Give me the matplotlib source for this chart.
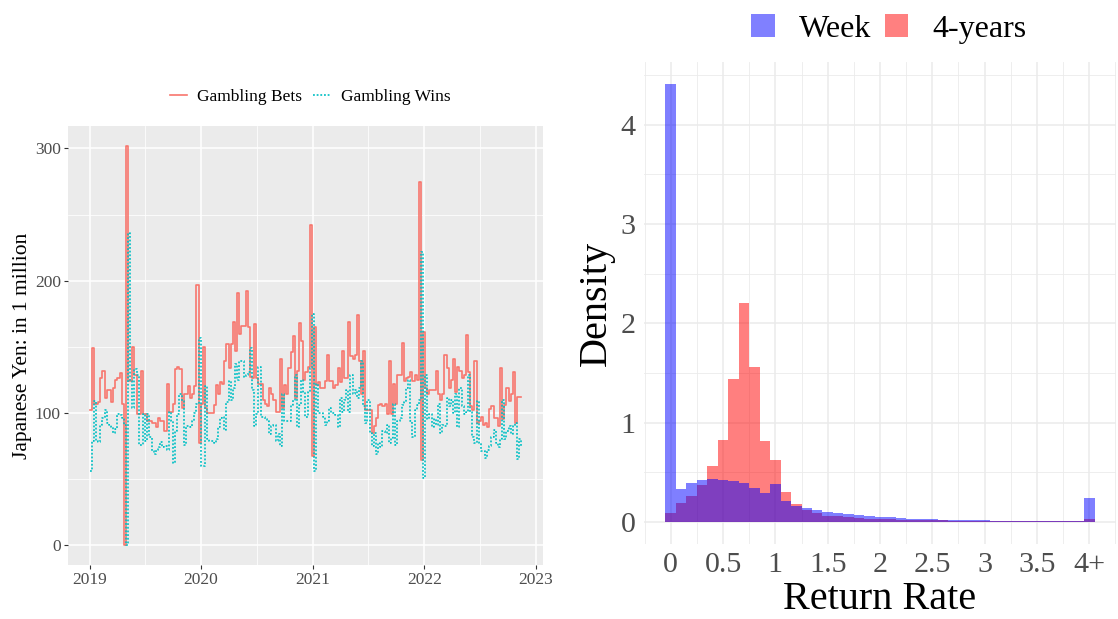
import numpy as np
import pandas as pd
import matplotlib
matplotlib.use("Agg")
import matplotlib.pyplot as plt
import matplotlib.dates as mdates
from matplotlib.lines import Line2D
from matplotlib.patches import Patch
from matplotlib.ticker import MultipleLocator

plt.rcParams['font.family'] = ['Liberation Serif', 'DejaVu Serif']

# weekly totals, in millions of yen
week_start = "2019-01-01"
bets = [
    102, 149, 107, 107, 108, 126, 132, 111, 117, 117,
    108, 119, 125, 126, 130, 107, 0, 302, 124, 124,
    150, 129, 99, 99, 132, 99, 99, 94, 94, 92,
    92, 89, 96, 94, 94, 86, 122, 101, 101, 107,
    133, 135, 133, 104, 114, 114, 120, 111, 114, 120,
    197, 77, 107, 150, 104, 100, 100, 100, 106, 121,
    114, 123, 122, 139, 152, 134, 152, 169, 147, 191,
    160, 166, 166, 192, 165, 127, 126, 167, 126, 122,
    122, 110, 107, 105, 119, 114, 110, 101, 101, 141,
    104, 121, 114, 134, 146, 158, 111, 132, 168, 154,
    125, 131, 135, 242, 67, 165, 121, 123, 119, 119,
    124, 144, 124, 124, 119, 121, 134, 123, 147, 126,
    126, 169, 143, 141, 144, 174, 139, 114, 147, 102,
    102, 102, 85, 90, 96, 106, 107, 105, 107, 99,
    139, 99, 122, 107, 129, 129, 153, 124, 126, 127,
    131, 124, 129, 125, 275, 64, 161, 119, 114, 117,
    117, 117, 132, 114, 110, 114, 144, 134, 119, 125,
    141, 116, 135, 132, 126, 129, 159, 131, 105, 102,
    139, 92, 94, 97, 91, 92, 89, 103, 105, 96,
    96, 90, 134, 95, 106, 119, 109, 114, 131, 92,
    112, 112, 112,
]
wins = [
    56, 79, 109, 79, 78, 91, 96, 102, 92, 91,
    89, 85, 88, 99, 98, 96, 91, 0, 236, 124,
    104, 133, 129, 76, 76, 99, 79, 99, 82, 71,
    69, 72, 74, 78, 74, 75, 72, 101, 94, 62,
    86, 99, 114, 109, 76, 90, 90, 89, 94, 100,
    107, 157, 60, 60, 120, 80, 79, 79, 77, 80,
    89, 96, 97, 87, 108, 124, 110, 119, 137, 125,
    139, 139, 127, 129, 131, 149, 117, 90, 99, 135,
    97, 97, 95, 94, 84, 90, 91, 79, 84, 75,
    114, 94, 94, 94, 106, 110, 129, 89, 106, 125,
    116, 97, 116, 134, 175, 56, 122, 100, 100, 97,
    91, 94, 104, 100, 100, 98, 89, 111, 101, 110,
    117, 101, 129, 114, 117, 111, 119, 139, 105, 92,
    110, 85, 75, 85, 69, 77, 74, 86, 85, 91,
    77, 81, 107, 76, 94, 96, 106, 108, 119, 125,
    94, 82, 102, 106, 110, 222, 51, 129, 95, 99,
    89, 95, 91, 107, 85, 91, 90, 111, 105, 110,
    100, 114, 89, 119, 105, 99, 101, 129, 101, 82,
    77, 109, 77, 71, 71, 66, 72, 75, 82, 87,
    77, 74, 80, 110, 80, 86, 90, 84, 90, 92,
    65, 80, 75,
]
dates = pd.date_range(week_start, periods=len(bets), freq="7D")

# return-rate histograms (density), bins of width 0.1, last bin is 4+
bin_centers = np.round(np.arange(0, 4.05, 0.1), 2)
week_density = [
    4.41, 0.33, 0.39, 0.42, 0.43, 0.42, 0.41, 0.39, 0.34, 0.29,
    0.38, 0.21, 0.165, 0.145, 0.125, 0.10, 0.09, 0.08, 0.068, 0.06,
    0.053, 0.047, 0.04, 0.036, 0.03, 0.028, 0.025, 0.022, 0.02, 0.018,
    0.017, 0.016, 0.015, 0.014, 0.013, 0.011, 0.01, 0.01, 0.009, 0.008,
    0.24,
]
years_density = [
    0.09, 0.19, 0.265, 0.37, 0.56, 0.83, 1.44, 2.21, 1.56, 0.82,
    0.62, 0.30, 0.185, 0.12, 0.095, 0.065, 0.058, 0.047, 0.037, 0.035,
    0.033, 0.027, 0.025, 0.022, 0.02, 0.02, 0.017, 0.014, 0.014, 0.014,
    0.014, 0.01, 0.01, 0.01, 0.01, 0.01, 0.008, 0.008, 0.008, 0.008,
    0.03,
]
rate_ticks = [0, 0.5, 1, 1.5, 2, 2.5, 3, 3.5, 4]
rate_labels = ["0", "0.5", "1", "1.5", "2", "2.5", "3", "3.5", "4+"]

RED = "#F8766D"
TEAL = "#00BFC4"

fig = plt.figure(figsize=(11.18, 6.19), dpi=100)

# ---- left: weekly bets and wins ----
ax = fig.add_axes([68/1118, 1 - 565/619, 475/1118, 439/619])
ax.set_facecolor("#EBEBEB")
ax.step(dates, bets, where="post", color=RED, lw=1.2, zorder=3)
ax.step(dates, wins, where="post", color=TEAL, lw=1.2,
        linestyle=(0, (1.1, 1.1)), zorder=3)

span = (dates[-1] - dates[0]) * 0.05
ax.set_xlim(dates[0] - span, dates[-1] + span)
ax.set_ylim(-15.1, 317)
ax.set_yticks([0, 100, 200, 300])
ax.set_yticks([50, 150, 250], minor=True)
years = pd.to_datetime(["2019-01-01", "2020-01-01", "2021-01-01", "2022-01-01", "2023-01-01"])
halves = pd.to_datetime(["2019-07-02", "2020-07-02", "2021-07-02", "2022-07-02"])
ax.set_xticks(years)
ax.set_xticks(halves, minor=True)
ax.xaxis.set_major_formatter(mdates.DateFormatter("%Y"))
ax.grid(which="major", color="white", lw=1.1, zorder=0)
ax.grid(which="minor", color="white", lw=0.55, zorder=0)
ax.set_axisbelow(True)
for s in ax.spines.values():
    s.set_visible(False)
ax.tick_params(which="major", length=3.2, width=0.8, color="#333333",
               labelcolor="#4D4D4D", labelsize=12.5, pad=2)
ax.tick_params(which="minor", length=0)
ax.set_ylabel("Japanese Yen: in 1 million", fontsize=15.5, labelpad=2)

handles = [Line2D([], [], color=RED, lw=1.2),
           Line2D([], [], color=TEAL, lw=1.2, linestyle=(0, (1.1, 1.1)))]
ax.legend(handles, ["Gambling Bets", "Gambling Wins"], loc="center",
          bbox_to_anchor=(310/1118, 1 - 97/619), bbox_transform=fig.transFigure,
          ncol=2, frameon=False, fontsize=12.5, handlelength=1.0,
          handletextpad=0.6, columnspacing=0.6)

# ---- right: return-rate distribution ----
ax2 = fig.add_axes([644/1118, 1 - 544/619, 472/1118, 482/619])
ax2.bar(bin_centers, years_density, width=0.1, color="red", alpha=0.5,
        lw=0, zorder=2)
ax2.bar(bin_centers, week_density, width=0.1, color="blue", alpha=0.5,
        lw=0, zorder=3)
ax2.set_xlim(-0.255, 4.255)
ax2.set_ylim(-0.2205, 4.6305)
ax2.set_xticks(rate_ticks)
ax2.set_xticklabels(rate_labels)
ax2.xaxis.set_minor_locator(MultipleLocator(0.25))
ax2.set_yticks([0, 1, 2, 3, 4])
ax2.yaxis.set_minor_locator(MultipleLocator(0.5))
ax2.grid(which="major", color="#EBEBEB", lw=1.1, zorder=0)
ax2.grid(which="minor", color="#EBEBEB", lw=0.6, zorder=0)
ax2.set_axisbelow(True)
for s in ax2.spines.values():
    s.set_visible(False)
ax2.tick_params(which="both", length=0, labelcolor="#4D4D4D", labelsize=21.6, pad=6)
ax2.set_xlabel("Return Rate", fontsize=29, labelpad=2)
ax2.set_ylabel("Density", fontsize=29, labelpad=4)

handles2 = [Patch(facecolor="#8080FF", edgecolor="none"),
            Patch(facecolor="#FF8080", edgecolor="none")]
ax2.legend(handles2, ["Week", "4-years"], loc="center",
           bbox_to_anchor=(889/1118, 1 - 29/619), bbox_transform=fig.transFigure,
           ncol=2, frameon=False, fontsize=23, handlelength=0.75,
           handleheight=0.75, handletextpad=0.75, columnspacing=0.4)

fig.savefig("out.png", dpi=100)
